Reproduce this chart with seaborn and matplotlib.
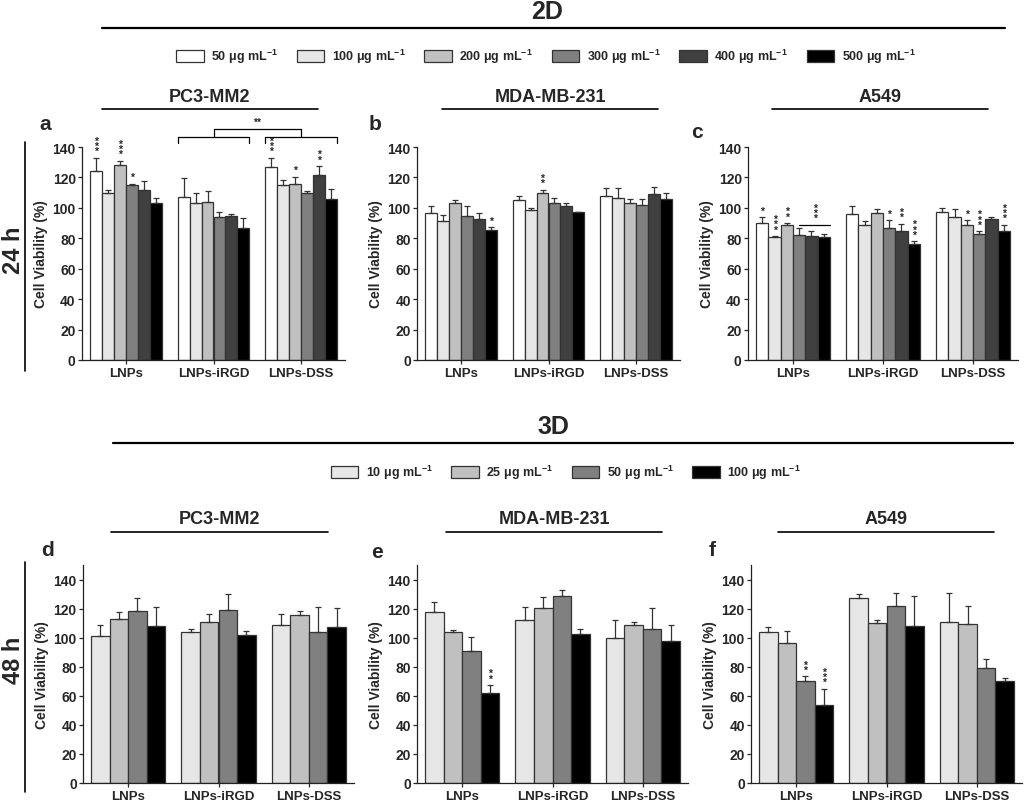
import numpy as np
import pandas as pd
import seaborn as sns
import matplotlib.pyplot as plt
from matplotlib.patches import Patch
from matplotlib.lines import Line2D

sns.set_style('ticks')
plt.rcParams['font.family'] = ['Liberation Sans', 'DejaVu Sans']
plt.rcParams['font.weight'] = 'bold'
plt.rcParams['mathtext.fontset'] = 'custom'
plt.rcParams['mathtext.bf'] = 'Liberation Sans:bold'
plt.rcParams['mathtext.rm'] = 'Liberation Sans:bold'
plt.rcParams['mathtext.default'] = 'bf'

# 数据
groups = ['LNPs', 'LNPs-iRGD', 'LNPs-DSS']
conc_2d = ['50', '100', '200', '300', '400', '500']
conc_3d = ['10', '25', '50', '100']
colors_2d = ['#ffffff', '#e6e6e6', '#c0c0c0', '#808080', '#404040', '#000000']
colors_3d = ['#e6e6e6', '#c0c0c0', '#808080', '#000000']

# 2D, 24 h
a_mean = [[124, 110, 128, 115, 112, 103.5], [107, 103, 104, 94, 94.5, 87], [127, 115, 116, 110, 121.5, 105.5]]
a_sd = [[9, 2, 3, 1, 5.5, 3], [12.5, 7, 7, 3, 1.5, 6.5], [6, 3, 4.5, 1, 6, 7]]
b_mean = [[96.5, 91.5, 103, 94.5, 93, 85.5], [105, 98.5, 110, 103, 101, 97], [108, 106.5, 103.5, 102, 109, 106]]
b_sd = [[5, 3.5, 2, 7, 3.5, 2], [3, 1.5, 2, 3.5, 2, 0.5], [5, 6.5, 2.5, 3.5, 5, 3.5]]
c_mean = [[90, 81, 89, 82, 81.5, 81], [96, 89, 96.5, 87, 85, 76], [97.5, 94, 88.5, 83, 93, 85]]
c_sd = [[4, 0.5, 1, 4.5, 3.5, 2], [5, 2.5, 2.5, 5, 4.5, 2], [2.5, 5, 3.5, 1.5, 1, 4]]

# 3D, 48 h
d_mean = [[101, 113, 118.5, 108], [104, 110.5, 119, 101.5], [109, 115.5, 104, 107]]
d_sd = [[8, 4.5, 9, 13], [2, 6, 11, 3], [7.5, 3, 17, 13.5]]
e_mean = [[117.5, 104, 90.5, 62], [112, 120.5, 129, 102.5], [100, 108.5, 106, 97.5]]
e_sd = [[7, 1.5, 10, 5.5], [9, 7.5, 4, 3.5], [12.5, 2.5, 14.5, 11]]
f_mean = [[104, 96.5, 70.5, 54], [127, 110, 121.5, 108], [111, 109.5, 79, 70.5]]
f_sd = [[3, 8, 3, 11], [3, 2.5, 9.5, 21], [19.5, 12.5, 6, 1.5]]

# 显著性标记 (组, 柱) -> 星号
a_stars = {(0, 0): '***', (0, 2): '***', (0, 3): '*', (2, 0): '***', (2, 2): '*', (2, 4): '**'}
b_stars = {(0, 5): '*', (1, 2): '**'}
c_stars = {(0, 0): '*', (0, 1): '***', (0, 2): '**', (1, 3): '*', (1, 4): '**', (1, 5): '***',
           (2, 2): '*', (2, 3): '***', (2, 5): '***'}
d_stars = {}
e_stars = {(0, 3): '**'}
f_stars = {(0, 2): '**', (0, 3): '***'}

W, H = 1024, 803
EDGE = '#333333'


def fx(x):
    return x / W


def fy(y):
    return 1 - y / H


def stack(s):
    return '\n'.join(s)


def draw_panel(left, top, right, bottom, ymax, mean, sd, concs, colors, stars):
    ax = fig.add_axes([fx(left), fy(bottom), fx(right - left), fy(top) - fy(bottom)])
    rows = [(g, c, mean[i][j]) for i, g in enumerate(groups) for j, c in enumerate(concs)]
    df = pd.DataFrame(rows, columns=['group', 'conc', 'value'])
    sns.barplot(data=df, x='group', y='value', hue='conc', order=groups, hue_order=concs,
                palette=dict(zip(concs, colors)), errorbar=None, width=0.82, gap=0,
                edgecolor=EDGE, linewidth=0.9, legend=False, ax=ax)
    bars = list(ax.containers)
    for j, cont in enumerate(bars):
        for i, p in enumerate(cont):
            xc = p.get_x() + p.get_width() / 2
            h = p.get_height()
            ax.errorbar(xc, h, yerr=[[0], [sd[i][j]]], fmt='none', ecolor=EDGE,
                        elinewidth=0.9, capsize=2, capthick=0.9)
            if (i, j) in stars:
                ax.text(xc, h + sd[i][j] + 1.0, stack(stars[(i, j)]), ha='center', va='bottom',
                        fontsize=7.5, linespacing=0.42, clip_on=False)
    ax.set_xlim(-0.5, 2.5)
    ax.set_ylim(0, ymax)
    ax.set_yticks(np.arange(0, 141, 20))
    ax.set_xlabel('')
    ax.set_ylabel('Cell Viability (%)', fontsize=10, fontweight='bold', labelpad=3)
    ax.tick_params(axis='y', labelsize=10, length=3, width=0.9, pad=1.5)
    ax.tick_params(axis='x', labelsize=9.5, length=3, width=0.9, pad=2)
    for lab in ax.get_xticklabels() + ax.get_yticklabels():
        lab.set_fontweight('bold')
    for s in ['top', 'right']:
        ax.spines[s].set_visible(False)
    for s in ['left', 'bottom']:
        ax.spines[s].set_linewidth(0.9)
        ax.spines[s].set_color('#222222')
    return ax, bars


def hline(x0, x1, y, lw):
    fig.add_artist(Line2D([fx(x0), fx(x1)], [fy(y), fy(y)], color='black', lw=lw,
                          transform=fig.transFigure))


def vline(x, y0, y1, lw):
    fig.add_artist(Line2D([fx(x), fx(x)], [fy(y0), fy(y1)], color='black', lw=lw,
                          transform=fig.transFigure))


fig = plt.figure(figsize=(W / 100, H / 100), dpi=100)

# 2D 部分
fig.text(fx(547), fy(12), '2D', ha='center', va='center', fontsize=18, fontweight='bold')
hline(102, 1005, 29, 1.6)
h2 = [Patch(facecolor=c, edgecolor=EDGE, linewidth=0.9) for c in colors_2d]
fig.legend(h2, [c + r' μg mL$^{-1}$' for c in conc_2d], loc='center', ncol=6,
           bbox_to_anchor=(fx(546), fy(57)), frameon=False, fontsize=9,
           handlelength=2.2, handleheight=1.1, handletextpad=0.6, columnspacing=1.5)

top_titles = [('PC3-MM2', 210, 102, 318), ('MDA-MB-231', 550, 442, 658), ('A549', 880, 772, 988)]
for name, cx, x0, x1 in top_titles:
    fig.text(fx(cx), fy(97), name, ha='center', va='center', fontsize=13, fontweight='bold')
    hline(x0, x1, 110, 1.2)

ax_a, bars_a = draw_panel(82, 148, 345, 361, 140, a_mean, a_sd, conc_2d, colors_2d, a_stars)
ax_b, bars_b = draw_panel(417, 148, 680, 361, 140, b_mean, b_sd, conc_2d, colors_2d, b_stars)
ax_c, bars_c = draw_panel(748, 148, 1018, 361, 140, c_mean, c_sd, conc_2d, colors_2d, c_stars)

# a 中的比较括号
for g in [1, 2]:
    x0 = bars_a[0][g].get_x()
    x1 = bars_a[-1][g].get_x() + bars_a[-1][g].get_width()
    ax_a.plot([x0, x0, x1, x1], [142.6, 146.6, 146.6, 142.6], color='black', lw=0.9, clip_on=False)
ax_a.plot([1, 1, 2, 2], [146.6, 151.8, 151.8, 146.6], color='black', lw=0.9, clip_on=False)
ax_a.text(1.5, 153, '**', ha='center', va='bottom', fontsize=7.5, clip_on=False)

# c 中的横线
lx0 = bars_c[3][0].get_x() + bars_c[3][0].get_width() / 2
lx1 = bars_c[5][0].get_x() + bars_c[5][0].get_width()
ax_c.plot([lx0, lx1], [89, 89], color='black', lw=0.9, clip_on=False)
ax_c.text((lx0 + lx1) / 2, 90, stack('***'), ha='center', va='bottom', fontsize=7.5,
          linespacing=0.42, clip_on=False)

fig.text(fx(13), fy(250), '24 h', ha='center', va='center', rotation=90, fontsize=17, fontweight='bold')
vline(25, 143, 372, 1.2)

# 3D 部分
fig.text(fx(553), fy(427), '3D', ha='center', va='center', fontsize=18, fontweight='bold')
hline(113, 1013, 444, 1.6)
h3 = [Patch(facecolor=c, edgecolor=EDGE, linewidth=0.9) for c in colors_3d]
fig.legend(h3, [c + r' μg mL$^{-1}$' for c in conc_3d], loc='center', ncol=4,
           bbox_to_anchor=(fx(566), fy(473)), frameon=False, fontsize=9,
           handlelength=2.2, handleheight=1.1, handletextpad=0.6, columnspacing=1.5)

bot_titles = [('PC3-MM2', 220, 111, 328), ('MDA-MB-231', 554, 446, 662), ('A549', 886, 778, 994)]
for name, cx, x0, x1 in bot_titles:
    fig.text(fx(cx), fy(520), name, ha='center', va='center', fontsize=13, fontweight='bold')
    hline(x0, x1, 533, 1.2)

ax_d, _ = draw_panel(83, 566, 354, 784, 150, d_mean, d_sd, conc_3d, colors_3d, d_stars)
ax_e, _ = draw_panel(417, 566, 688, 784, 150, e_mean, e_sd, conc_3d, colors_3d, e_stars)
ax_f, _ = draw_panel(751, 566, 1022, 784, 150, f_mean, f_sd, conc_3d, colors_3d, f_stars)

fig.text(fx(13), fy(660), '48 h', ha='center', va='center', rotation=90, fontsize=17, fontweight='bold')
vline(25, 563, 793, 1.2)

# 面板字母
for lab, x, y in [('a', 45, 125), ('b', 375, 125), ('c', 697, 133),
                  ('d', 47, 551), ('e', 377, 553), ('f', 712, 551)]:
    fig.text(fx(x), fy(y), lab, ha='center', va='center', fontsize=15, fontweight='bold')

plt.savefig('out.png', dpi=100)
